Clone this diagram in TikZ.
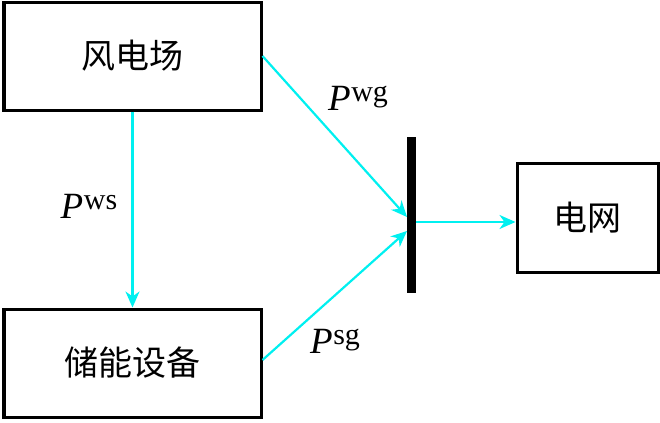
\documentclass[tikz,border=0pt]{standalone}
\usepackage{fontspec}
\setmainfont{Liberation Serif}
\newfontfamily\cjk{Noto Sans CJK SC}
\usepackage{tikz}
\usetikzlibrary{arrows.meta,positioning}
\definecolor{flowcyan}{RGB}{0,240,240}
\newcommand{\pflow}[1]{\textit{P}\kern0.3pt\raisebox{4.3pt}{\fontsize{15}{16}\selectfont #1}}

\begin{document}
\begin{tikzpicture}[
  x=0.5pt, y=-0.5pt, >={Stealth[length=8pt, width=7pt, inset=2.5pt]},
  block/.style={draw=black, line width=1.5pt, fill=white, minimum width=128.5pt, minimum height=54pt, inner sep=0pt, font=\fontsize{17}{19}\cjk},
  bus/.style={fill=black, draw=none, minimum width=4.5pt, minimum height=78pt, inner sep=0pt},
  arrow/.style={->, line width=1.1pt, flowcyan},
  lbl/.style={font=\fontsize{18.5}{20}\selectfont, inner sep=0pt}
]
\useasboundingbox (0,0) rectangle (660,423);

\node[block] (wind) at (132.5,56) {风电场};
\node[block] (store) at (132.5,363) {储能设备};
\node[block, minimum width=70.5pt, minimum height=54.5pt] (grid) at (587.5,217.5) {电网};
\node[bus] (bar) at (411.5,215) {};

\coordinate (in1) at (407,217);
\coordinate (in2) at (407,231);
\coordinate (out) at (416,222);

\draw[arrow] (wind.south) -- (store.north);
\draw[arrow] (wind.east) -- (in1);
\draw[arrow] ([yshift=1.5pt]store.east) -- (in2);
\draw[arrow] (out) -- (grid.west |- out);

\node[lbl] (pwg) at (358,98) {\pflow{wg}};
\node[lbl] (pws) at (89,206) {\pflow{ws}};
\node[lbl] (psg) at (335,341) {\pflow{sg}};

\end{tikzpicture}
\end{document}
